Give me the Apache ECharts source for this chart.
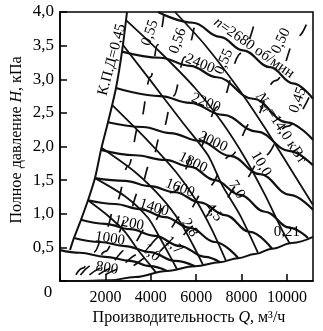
<!DOCTYPE html>
<html><head><meta charset="utf-8">
<script src="https://cdn.jsdelivr.net/npm/echarts@6/dist/echarts.min.js"></script>
<style>html,body{margin:0;padding:0;background:#fff}#c{width:323px;height:331px}</style>
</head><body><div id="c"></div>
<script>
// ---------- data (Q in m3/h, H in kPa) ----------
const xTickValues = [2000, 4000, 6000, 8000, 10000];
const xTickLabels = ['2000', '4000', '6000', '8000', '10000'];
const yTickValues = [0.5, 1.0, 1.5, 2.0, 2.5, 3.0, 3.5, 4.0];
const yTickLabels = ['0,5', '1,0', '1,5', '2,0', '2,5', '3,0', '3,5', '4,0'];

// speed curves n, rpm
const n2680 = [[4320,4.00],[5861,3.84],[7051,3.63],[8065,3.43],[9255,3.18],[10268,2.94],[11150,2.71]];
const n2400 = [[2732,3.41],[4407,3.32],[5729,3.20],[6919,3.03],[8506,2.71],[10004,2.36],[11150,2.10]];
const n2200 = [[2468,2.87],[4407,2.75],[5729,2.65],[7183,2.47],[8682,2.22],[10136,1.93],[11150,1.72]];
const n2000 = [[2115,2.36],[3658,2.29],[4848,2.20],[6170,2.08],[7492,1.86],[8814,1.59],[10136,1.28],[11150,1.06]];
const n1800 = [[1807,1.95],[3305,1.87],[4627,1.80],[5729,1.70],[6831,1.50],[7933,1.28],[9034,1.03],[10136,0.79],[10929,0.64]];
const n1600 = [[1542,1.53],[2865,1.49],[3966,1.41],[5068,1.32],[6170,1.17],[7272,0.98],[8373,0.73],[9343,0.48]];
const n1400 = [[1234,1.20],[2424,1.145],[3526,1.07],[4627,0.95],[5729,0.79],[6831,0.58],[7845,0.345]];
const n1200 = [[925,0.91],[1983,0.85],[3085,0.77],[4187,0.67],[5288,0.52],[6390,0.36],[7051,0.28]];
const n1000 = [[617,0.64],[1763,0.58],[2865,0.52],[3966,0.43],[5068,0.30],[5949,0.22]];
const n800  = [[0,0.46],[881,0.42],[1983,0.36],[3085,0.30],[3966,0.22],[4715,0.15]];
const speedNames = ['2680','2400','2200','2000','1800','1600','1400','1200','1000','800'];

// power lines N, kW
const p1_0  = [[1234,1.20],[2115,0.97],[2865,0.73],[3437,0.46],[3966,0.24],[4231,0.125]];
const p1_7  = [[1542,1.53],[2865,1.26],[3878,0.94],[4407,0.64],[4848,0.37],[5156,0.175]];
const p2_8  = [[1829,1.98],[3305,1.62],[4495,1.23],[5288,0.88],[5861,0.535],[6302,0.24]];
const p4_5  = [[2292,2.62],[3834,2.10],[5112,1.62],[5993,1.20],[6699,0.76],[7316,0.30]];
const p7_0  = [[2776,3.51],[3966,2.99],[5421,2.35],[6522,1.87],[7139,1.43],[7933,0.98],[8726,0.42]];
const p10_0 = [[2909,3.88],[4407,3.405],[5949,2.87],[7139,2.36],[8153,1.83],[9034,1.28],[9828,0.73],[10136,0.555]];
const p14_0 = [[5068,4.00],[6390,3.51],[7844,2.87],[9034,2.275],[10136,1.68],[11150,1.13]];
const powerNames = ['1,0','1,7','2,8','4,5','7,0','10,0','14,0'];

// efficiency lines
const e045L = [[441,0.46],[617,0.64],[925,0.91],[1234,1.20],[1542,1.53],[1807,1.95],[2115,2.36],[2468,2.87],[2732,3.41],[2953,4.00]];
const e055a = [[700,0.093],[1000,0.19],[1500,0.43],[2000,0.76],[2500,1.19],[3000,1.71],[3500,2.33],[4000,3.04],[4300,3.51],[4600,4.02]];
const e056  = [[900,0.089],[1500,0.25],[2000,0.44],[2500,0.69],[3000,0.99],[3500,1.35],[4000,1.76],[4500,2.23],[5000,2.75],[5500,3.33],[6050,4.03]];
const e055b = [[1300,0.09],[2000,0.21],[3000,0.48],[4000,0.85],[5000,1.33],[6000,1.91],[7000,2.60],[8000,3.39],[8700,4.01]];
const e050  = [[1700,0.095],[2500,0.21],[3500,0.40],[4500,0.67],[5500,1.00],[6500,1.39],[7500,1.86],[8500,2.38],[9500,2.98],[10500,3.64],[11150,4.10]];
const e045R = [[2000,0.092],[3000,0.21],[4000,0.37],[5000,0.58],[6000,0.83],[7000,1.13],[8000,1.47],[9000,1.86],[10000,2.30],[11150,2.86]];
const e021  = [[1102,0],[2204,0.01],[3305,0.06],[4715,0.15],[5949,0.22],[7051,0.28],[7845,0.34],[8594,0.40],[9343,0.48],[10224,0.565],[11150,0.655]];

// ---------- layout of in-plot labels (anchor in data coords, rotation deg) ----------
const FONT = '"Liberation Serif","Times New Roman",serif';
const labelLayout = [
  {t:'{i|n}=2680 об/мин', q:8550, h:3.465, r:-35},
  {t:speedNames[1], q:6170, h:3.23, r:-22},
  {t:speedNames[2], q:6434, h:2.65, r:-21},
  {t:speedNames[3], q:6743, h:2.07, r:-25},
  {t:speedNames[4], q:5861, h:1.76, r:-26},
  {t:speedNames[5], q:5288, h:1.38, r:-21},
  {t:speedNames[6], q:4143, h:1.09, r:-17},
  {t:speedNames[7], q:3041, h:0.86, r:-12},
  {t:speedNames[8], q:2204, h:0.63, r:-9},
  {t:speedNames[9], q:2071, h:0.19, r:-9},
  {t:powerNames[0], q:4010, h:0.42, r:-40},
  {t:powerNames[1], q:5000, h:0.53, r:-45},
  {t:powerNames[2], q:5720, h:0.79, r:-57},
  {t:powerNames[3], q:6790, h:1.02, r:-52},
  {t:powerNames[4], q:7780, h:1.36, r:-58},
  {t:powerNames[5], q:8858, h:1.74, r:-60},
  {t:'{i|N}{s|вт}=14,0 кВт', q:9739, h:2.275, r:-57},
  {t:'0,21', q:10004, h:0.73, r:0},
  {t:'К.П.Д=0,45', q:2292, h:3.29, r:75},
  {t:'0,55', q:3966, h:3.69, r:72},
  {t:'0,56', q:5200, h:3.57, r:70},
  {t:'0,55', q:7227, h:3.26, r:66},
  {t:'0,50', q:9739, h:3.57, r:65},
  {t:'0,45', q:10488, h:2.69, r:70}
];

// ---------- chart ----------
const chart = echarts.init(document.getElementById('c'), null, {renderer:'canvas'});
const C = '#111';
function ln(data, w, type, smooth, mono) {
  return {type:'line', data:data, showSymbol:false, symbol:'none', smooth:smooth, smoothMonotone:mono,
    lineStyle:{color:C, width:w, type:type}, silent:true, animation:false, clip:true};
}
const series = [];
[n2680,n2400,n2200,n2000,n1800,n1600,n1400,n1200,n1000,n800].forEach(d => series.push(ln(d, 2.2, 'solid', 0.4, 'x')));
[p1_0,p1_7,p2_8,p4_5,p7_0,p10_0,p14_0].forEach(d => series.push(ln(d, 1.8, 'solid', 0.25, null)));
series.push(ln(e045L, 2, 'solid', 0.3, null));
series.push(ln(e021, 2, 'solid', 0.4, 'x'));
[e055a,e056,e055b,e050,e045R].forEach(d => series.push(ln(d, 1.7, [13,17], 0.4, 'x')));

function fmt(values, labels) {
  return v => { const i = values.findIndex(x => Math.abs(x - v) < 1e-6); return i >= 0 ? labels[i] : ''; };
}
chart.setOption({
  animation:false,
  backgroundColor:'#fff',
  grid:{left:60, right:10, top:12, bottom:50, show:true, borderColor:'#000', borderWidth:1.5, backgroundColor:'transparent'},
  xAxis:{type:'value', min:0, max:11150, interval:2000,
    axisLine:{lineStyle:{color:'#000', width:1.5}},
    axisTick:{inside:true, length:7, lineStyle:{color:'#000', width:1.5}},
    splitLine:{show:false},
    axisLabel:{formatter:fmt(xTickValues, xTickLabels), showMaxLabel:false, fontFamily:FONT, fontSize:16, color:'#000', margin:9}},
  yAxis:{type:'value', min:0, max:4, interval:0.5,
    axisLine:{lineStyle:{color:'#000', width:1.5}},
    axisTick:{inside:true, length:7, lineStyle:{color:'#000', width:1.5}},
    splitLine:{show:false},
    axisLabel:{formatter:fmt(yTickValues, yTickLabels), fontFamily:FONT, fontSize:17, color:'#000', margin:6}},
  series:series
});

const rich = {
  i:{fontStyle:'italic', fontFamily:FONT, fontSize:15, fill:'#000'},
  s:{fontFamily:FONT, fontSize:10, fill:'#000', padding:[7,0,0,0]}
};
const g = [];
labelLayout.forEach(l => {
  const p = chart.convertToPixel({xAxisIndex:0, yAxisIndex:0}, [l.q, l.h]);
  g.push({type:'text', x:p[0], y:p[1], rotation:l.r*Math.PI/180, z:100, silent:true,
    style:{text:l.t, fontFamily:FONT, fontSize:15, fill:'#000', align:'center', verticalAlign:'middle', rich:rich}});
});
g.push({type:'text', x:48, y:293, z:100, silent:true,
  style:{text:'0', fontFamily:FONT, fontSize:17, fill:'#000', align:'center', verticalAlign:'middle'}});
g.push({type:'text', x:17, y:140, rotation:Math.PI/2, z:100, silent:true,
  style:{text:'Полное давление {i|H}, кПа', fontFamily:FONT, fontSize:16, fill:'#000', align:'center', verticalAlign:'middle',
    rich:{i:{fontStyle:'italic', fontFamily:FONT, fontSize:16, fill:'#000'}}}});
g.push({type:'text', x:189, y:318, z:100, silent:true,
  style:{text:'Производительность {i|Q}, м³/ч', fontFamily:FONT, fontSize:16, fill:'#000', align:'center', verticalAlign:'middle',
    rich:{i:{fontStyle:'italic', fontFamily:FONT, fontSize:16, fill:'#000'}}}});
chart.setOption({graphic:g});
</script>
</body></html>
